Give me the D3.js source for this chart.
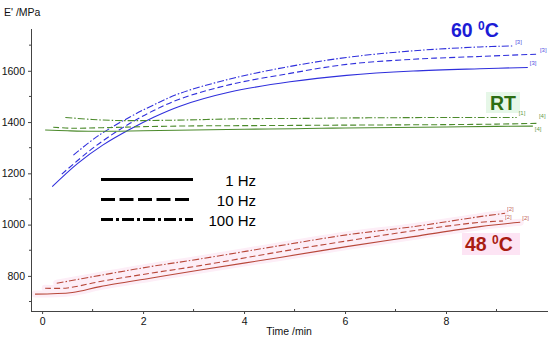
<!DOCTYPE html>
<html><head><meta charset="utf-8">
<script src="https://cdn.jsdelivr.net/npm/d3@7"></script>
<style>body{margin:0;background:#fff}svg{display:block}text{font-family:"Liberation Sans",Arial,sans-serif}</style>
</head><body><svg id="c" width="550" height="341"></svg>
<script>
// ---- data ----
const xTicks = [0, 2, 4, 6, 8];
const xMinor = [1, 3, 5, 7, 9];
const yTicks = [800, 1000, 1200, 1400, 1600];
const yMinor = [700, 900, 1100, 1300, 1500, 1700];

const blueSolidT = [0.2, 0.7, 1.2, 1.74, 2.2, 2.73, 3.72, 4.91, 6.03, 7.35, 8.67, 9.62];
const blueSolidV = [1148, 1238, 1310, 1372, 1418, 1462, 1517, 1557, 1582, 1599, 1608, 1613];
const blueDashT = [0.39, 0.9, 1.3, 1.74, 2.2, 2.73, 3.72, 4.91, 6.03, 7.35, 8.67, 9.82];
const blueDashV = [1197, 1282, 1340, 1395, 1444, 1490, 1546, 1590, 1625, 1645, 1656, 1665];
const blueDotT = [0.62, 1.1, 1.74, 2.2, 2.73, 3.72, 4.8, 6.03, 7.35, 8.67, 9.33];
const blueDotV = [1271, 1345, 1420, 1466, 1512, 1568, 1613, 1652, 1678, 1693, 1697];

const greenSolidT = [0.06, 0.5, 1.0, 2, 3, 4, 5, 6, 7, 8, 9, 9.72];
const greenSolidV = [1369, 1366, 1364, 1366, 1369, 1372, 1374, 1377, 1379, 1381, 1383, 1384];
const greenDashT = [0.22, 0.6, 1.2, 2, 3, 4, 5, 6, 7, 8, 9, 9.8];
const greenDashV = [1380, 1376, 1378, 1382, 1385, 1386, 1387, 1388, 1389, 1390, 1392, 1395];
const greenDotT = [0.46, 1, 1.5, 2.5, 4, 5, 6, 7, 8, 9, 9.4];
const greenDotV = [1418, 1410, 1406, 1407, 1413, 1414, 1416, 1417, 1418, 1418, 1418];

const redSolidT = [-0.14, 0.6, 1.15, 2.14, 3.13, 4.71, 6.03, 7.35, 8.67, 9.47];
const redSolidV = [729, 735, 758, 791, 823, 872, 914, 953, 992, 1009];
const redDashT = [0.06, 0.5, 1.15, 2.14, 3.13, 4.71, 6.03, 7.35, 8.67, 9.13];
const redDashV = [752, 753, 778, 810, 840, 894, 936, 976, 1009, 1014];
const redDotT = [0.29, 1.15, 2.14, 3.13, 4.71, 6.03, 7.35, 8.67, 9.17];
const redDotV = [771, 802, 836, 866, 918, 960, 992, 1031, 1044];

const seriesNames = ["60 solid","60 dash","60 dashdot","RT solid","RT dash","RT dashdot","48 solid","48 dash","48 dashdot"];
const endTags = ["[3]","[3]","[3]","[4]","[4]","[1]","[2]","[2]","[2]"];
const legendLabels = ["1 Hz", "10 Hz", "100 Hz"];
const groupLabels = ["60", "RT", "48"];
const yTitle = "E' /MPa";
const xTitle = "Time /min";

// ---- styles ----
const C = {blue:"#2f2fdc", green:"#4c8a2c", red:"#b8483a"};
const dashes = ["none", "6,3", "7,2,1.5,2"];
const tagDy = [-2, -2, -2, 5, -5, -2, -2, -2, -2];

const svg = d3.select("#c");
const x = d3.scaleLinear().domain([-0.22, 10.02]).range([31, 548]);
const y = d3.scaleLinear().domain([663, 1763]).range([311, 29]);

const series = [
  {t:blueSolidT, v:blueSolidV, c:C.blue, d:0},
  {t:blueDashT, v:blueDashV, c:C.blue, d:1},
  {t:blueDotT, v:blueDotV, c:C.blue, d:2},
  {t:greenSolidT, v:greenSolidV, c:C.green, d:0},
  {t:greenDashT, v:greenDashV, c:C.green, d:1},
  {t:greenDotT, v:greenDotV, c:C.green, d:2},
  {t:redSolidT, v:redSolidV, c:C.red, d:0},
  {t:redDashT, v:redDashV, c:C.red, d:1},
  {t:redDotT, v:redDotV, c:C.red, d:2},
].map((s,i)=>({...s, i, name:seriesNames[i], tag:endTags[i], pts:s.t.map((t,j)=>[t,s.v[j]])}));

const line = d3.line().x(d=>x(d[0])).y(d=>y(d[1])).curve(d3.curveCatmullRom.alpha(0.5));

// pale pink glow under red curves
svg.append("g").selectAll("path").data(series.slice(6)).join("path")
  .attr("d", s=>line(s.pts)).attr("fill","none").attr("stroke","#fdeef7").attr("stroke-width",7).attr("stroke-linecap","round");

// highlight backgrounds behind group labels
svg.append("rect").attr("x",486).attr("y",92).attr("width",34).attr("height",21).attr("fill","#e6f7e8");
svg.append("rect").attr("x",462).attr("y",233).attr("width",58).attr("height",22).attr("fill","#fde4f4");

// axes
const ax = svg.append("g").attr("transform","translate(0,311)")
  .call(d3.axisBottom(x).tickValues(xTicks).tickSize(3).tickPadding(4).tickFormat(d3.format("d")));
ax.append("g").selectAll("line").data(xMinor).join("line")
  .attr("x1",d=>x(d)).attr("x2",d=>x(d)).attr("y1",0).attr("y2",-2).attr("stroke","#444");
const ay = svg.append("g").attr("transform","translate(31,0)")
  .call(d3.axisLeft(y).tickValues(yTicks).tickSize(3).tickPadding(3).tickFormat(d3.format("d")));
ay.append("g").selectAll("line").data(yMinor).join("line")
  .attr("y1",d=>y(d)).attr("y2",d=>y(d)).attr("x1",0).attr("x2",-2).attr("stroke","#444");
[ax, ay].forEach(g=>{
  g.select(".domain").attr("stroke","#444");
  g.selectAll(".tick line").attr("stroke","#444");
  g.selectAll("text").attr("font-size",10.5).attr("fill","#111").attr("font-family","Liberation Sans, Arial");
});
ay.select(".domain").attr("d","M0.5,29V311.5");
ax.select(".domain").attr("d","M31,0.5H548");

svg.append("text").attr("x",4).attr("y",16).attr("font-size",10.5).attr("fill","#111").text(yTitle);
svg.append("text").attr("x",289).attr("y",335).attr("text-anchor","middle").attr("font-size",10.5).attr("fill","#111").text(xTitle);

// curves
svg.append("g").selectAll("path").data(series).join("path")
  .attr("d", s=>line(s.pts)).attr("fill","none").attr("stroke", s=>s.c)
  .attr("stroke-width",1.1).attr("stroke-dasharray", s=>dashes[s.d]);

// end tags
svg.append("g").selectAll("text").data(series).join("text")
  .attr("x", s=>x(s.t[s.t.length-1])+2).attr("y", s=>y(s.v[s.v.length-1])+tagDy[s.i])
  .attr("font-size",6).attr("fill", s=>s.c).attr("opacity",0.85).text(s=>s.tag);

// group labels
function degLabel(num, xPos, yPos, col){
  const t = svg.append("text").attr("x",xPos).attr("y",yPos).attr("font-size",19.5).attr("font-weight","bold").attr("fill",col);
  t.append("tspan").text(num + " ");
  t.append("tspan").attr("font-size",12).attr("dy",-7).text("0");
  t.append("tspan").attr("dy",7).text("C");
}
degLabel(groupLabels[0], 451, 37, "#1c1cd6");
svg.append("text").attr("x",490).attr("y",110).attr("font-size",19.5).attr("font-weight","bold").attr("fill","#2c6c12").text(groupLabels[1]);
degLabel(groupLabels[2], 465, 251, "#a91c12");

// legend
const lg = svg.append("g");
legendLabels.forEach((lab,i)=>{
  const yy = 179.5 + i*20;
  lg.append("line").attr("x1",101).attr("x2",193).attr("y1",yy).attr("y2",yy)
    .attr("stroke","#000").attr("stroke-width",3)
    .attr("stroke-dasharray", i===0 ? null : (i===1 ? "14,4.5" : "12,3,3,3"));
  lg.append("text").attr("x",256).attr("y",yy+6.5).attr("text-anchor","end").attr("font-size",15).attr("fill","#000").text(lab);
});
</script></body></html>
